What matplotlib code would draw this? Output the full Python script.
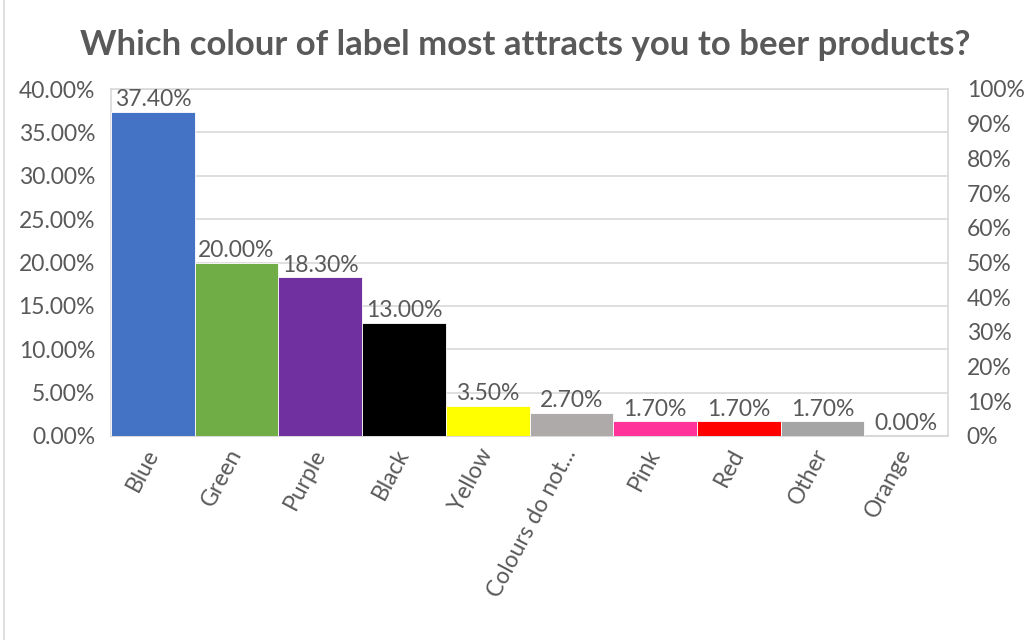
import numpy as np
import matplotlib.pyplot as plt
from matplotlib.ticker import FuncFormatter
from matplotlib.lines import Line2D

categories = ['Blue', 'Green', 'Purple', 'Black', 'Yellow', 'Colours do not...',
              'Pink', 'Red', 'Other', 'Orange']
shares = [37.4, 20.0, 18.3, 13.0, 3.5, 2.7, 1.7, 1.7, 1.7, 0.0]
bar_colors = ['#4472C4', '#70AD47', '#7030A0', '#000000', '#FFFF00', '#AEAAAA',
              '#FF3399', '#FF0000', '#A5A5A5', '#FFC000']

plt.rcParams['font.family'] = ['Lato', 'DejaVu Sans']
text_col = '#595959'
fs = 16.5

fig = plt.figure(figsize=(10.3, 6.4), dpi=100)
ax = fig.add_axes([111 / 1030, 1 - 436 / 640, 837 / 1030, 347 / 640])

x = np.arange(len(categories))
ax.bar(x, shares, width=1.0, color=bar_colors, edgecolor='white', linewidth=0.6, zorder=3)
ax.set_xlim(-0.5, len(categories) - 0.5)
ax.set_ylim(0, 40)
ax.set_yticks(np.arange(0, 41, 5))
ax.yaxis.set_major_formatter(FuncFormatter(lambda v, p: f'{v:.2f}%'))
ax.grid(axis='y', color='#D9D9D9', linewidth=1.2, zorder=0)

for xi, v in zip(x, shares):
    ax.text(xi, v + 0.2, f'{v:.2f}%', ha='center', va='bottom', fontsize=fs,
            color=text_col, zorder=4)

ax.set_xticks(x)
ax.set_xticklabels(categories, rotation=62, ha='right', va='center',
                   rotation_mode='anchor', fontsize=fs, color=text_col)
ax.tick_params(axis='x', length=0, pad=10)
ax.tick_params(axis='y', length=0, pad=11.5, labelsize=fs, labelcolor=text_col)

for s in ['top', 'right', 'left']:
    ax.spines[s].set_color('#D9D9D9')
    ax.spines[s].set_linewidth(1.2)
ax.spines['bottom'].set_color('#D9D9D9')
ax.spines['bottom'].set_linewidth(1.5)

ax2 = ax.twinx()
ax2.set_ylim(0, 100)
ax2.set_yticks(np.arange(0, 101, 10))
ax2.yaxis.set_major_formatter(FuncFormatter(lambda v, p: f'{v:.0f}%'))
ax2.tick_params(axis='y', length=0, pad=13.5, labelsize=fs, labelcolor=text_col)
for s in ax2.spines.values():
    s.set_visible(False)

fig.suptitle('Which colour of label most attracts you to beer products?',
             x=525 / 1030, y=1 - 45 / 640, va='center', fontsize=25, fontweight='bold',
             color=text_col)

fig.add_artist(Line2D([4 / 1030, 4 / 1030], [0, 1], color='#D9D9D9', linewidth=1.2))

fig.savefig('out.png', dpi=100)
